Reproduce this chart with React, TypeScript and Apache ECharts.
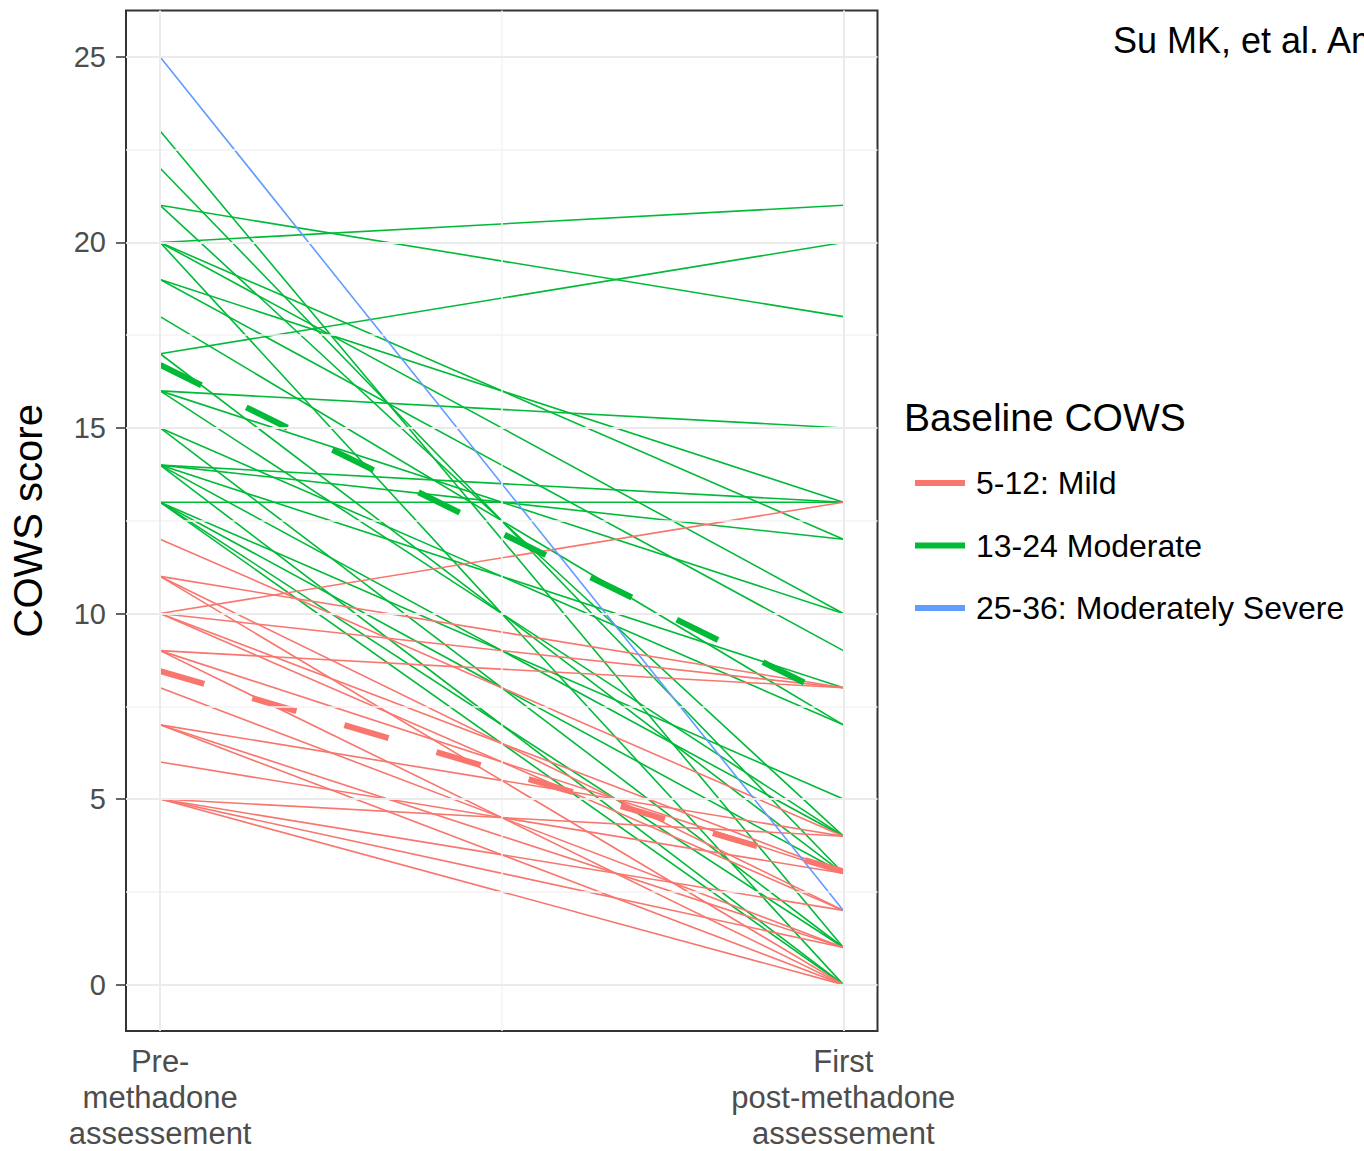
import React, { useEffect, useRef } from "react";
import * as echarts from "echarts";

// ---- data ----
const timepoints = [1, 2];
const xTickLabels = ["Pre-\nmethadone\nassessement", "First\npost-methadone\nassessement"];
const yTicks = [0, 5, 10, 15, 20, 25];
const yMinorGrid = [2.5, 7.5, 12.5, 17.5, 22.5];
const xMinorGrid = [1.5];
const groups = ["5-12: Mild", "13-24 Moderate", "25-36: Moderately Severe"];
const groupColors = ["#F8766D", "#00BA38", "#619CFF"];

// 5-12: Mild (pre -> first post)
const mildPre = [12, 11, 11, 11, 10, 10, 10, 10, 9, 9, 9, 8, 7, 7, 7, 6, 5, 5, 5, 5];
const mildPost = [4, 8, 2, 0, 13, 8, 3, 2, 8, 3, 0, 1, 4, 1, 0, 3, 4, 2, 1, 0];

// 13-24 Moderate
const moderatePre = [23, 22, 21, 21, 20, 20, 20, 20, 19, 19, 18, 17, 17, 16, 16, 16, 15, 15, 14, 14, 14, 14, 14, 13, 13, 13, 13, 13];
const moderatePost = [1, 3, 18, 4, 21, 12, 10, 0, 13, 9, 7, 20, 3, 15, 10, 4, 7, 1, 13, 12, 8, 4, 0, 13, 5, 3, 1, 0];

// 25-36: Moderately Severe
const severePre = [25];
const severePost = [2];

// group means (thick dashed lines)
const meanGroups = [0, 1];
const meanPre = [8.45, 16.7];
const meanPost = [3.05, 7.62];

const citation = "Su MK, et al. Am J Emerg Med";
const legendTitle = "Baseline COWS";
const yTitle = "COWS score";

export default function App() {
  const ref = useRef<HTMLDivElement>(null);

  useEffect(() => {
    document.body.style.margin = "0";
    const chart = echarts.init(ref.current as HTMLDivElement, null, { renderer: "svg" });
    const font = "'Liberation Sans', Arial, Helvetica, sans-serif";

    const series: any[] = [];

    // panel grid lines (through the axis scales)
    const major = { color: "#ebebeb", width: 2, type: "solid" };
    const minor = { color: "#f3f3f3", width: 1.5, type: "solid" };
    series.push({
      type: "line",
      data: [],
      silent: true,
      z: 1,
      markLine: {
        silent: true,
        symbol: ["none", "none"],
        label: { show: false },
        emphasis: { disabled: true },
        data: [
          ...yMinorGrid.map((v) => ({ yAxis: v, lineStyle: minor })),
          ...xMinorGrid.map((v) => ({ xAxis: v, lineStyle: minor })),
          ...yTicks.map((v) => ({ yAxis: v, lineStyle: major })),
          ...timepoints.map((v) => ({ xAxis: v, lineStyle: major })),
        ],
      },
    });

    const addGroup = (pre: number[], post: number[], gi: number) => {
      pre.forEach((a, i) => {
        series.push({
          name: groups[gi],
          type: "line",
          data: [
            [timepoints[0], a],
            [timepoints[1], post[i]],
          ],
          symbol: "none",
          silent: true,
          z: 2,
          lineStyle: { color: groupColors[gi], width: 1.6 },
          itemStyle: { color: groupColors[gi] },
        });
      });
    };
    addGroup(moderatePre, moderatePost, 1);
    addGroup(mildPre, mildPost, 0);
    addGroup(severePre, severePost, 2);

    meanGroups.forEach((gi, k) => {
      series.push({
        name: groups[gi],
        type: "line",
        data: [
          [timepoints[0], meanPre[k]],
          [timepoints[1], meanPost[k]],
        ],
        symbol: "none",
        silent: true,
        z: 3,
        lineStyle: { color: groupColors[gi], width: 6, type: [46, 50], cap: "butt" },
        itemStyle: { color: groupColors[gi] },
      });
    });

    chart.setOption({
      animation: false,
      backgroundColor: "#ffffff",
      textStyle: { fontFamily: font },
      grid: {
        left: 124,
        top: 10.5,
        width: 753.5,
        height: 1022,
        show: true,
        borderColor: "#333333",
        borderWidth: 2,
        backgroundColor: "#ffffff",
        containLabel: false,
      },
      xAxis: {
        type: "value",
        min: 0.95,
        max: 2.05,
        splitLine: { show: false },
        axisLine: { show: false },
        axisTick: {
          show: true,
          customValues: timepoints,
          length: 10,
          lineStyle: { color: "#333333", width: 1.5 },
        },
        axisLabel: {
          customValues: timepoints,
          formatter: (v: number) => xTickLabels[timepoints.indexOf(v)] ?? "",
          fontSize: 31,
          lineHeight: 36,
          color: "#4d4d4d",
          margin: 12,
          fontFamily: font,
        },
      },
      yAxis: {
        type: "value",
        min: -1.25,
        max: 26.25,
        splitLine: { show: false },
        axisLine: { show: false },
        axisTick: {
          show: true,
          customValues: yTicks,
          length: 10,
          lineStyle: { color: "#333333", width: 1.5 },
        },
        axisLabel: {
          customValues: yTicks,
          fontSize: 29,
          color: "#4d4d4d",
          margin: 20,
          fontFamily: font,
        },
        name: yTitle,
        nameLocation: "middle",
        nameGap: 78,
        nameTextStyle: { fontSize: 40, color: "#000000", fontFamily: font },
      },
      legend: {
        data: groups,
        orient: "vertical",
        left: 910,
        top: 460,
        icon: "rect",
        itemWidth: 50,
        itemHeight: 6,
        itemGap: 26.5,
        selectedMode: false,
        textStyle: {
          fontSize: 32,
          lineHeight: 36,
          color: "#000000",
          fontFamily: font,
          padding: [0, 0, 0, 6],
        },
      },
      graphic: [
        {
          type: "text",
          left: 904,
          top: 398,
          silent: true,
          style: { text: legendTitle, fontSize: 39, fill: "#000000", fontFamily: font },
        },
        {
          type: "text",
          left: 1113,
          top: 22,
          silent: true,
          style: { text: citation, fontSize: 36, fill: "#000000", fontFamily: font },
        },
      ],
      series,
    });

    return () => {
      chart.dispose();
    };
  }, []);

  return <div ref={ref} style={{ width: 1364, height: 1151 }} />;
}
